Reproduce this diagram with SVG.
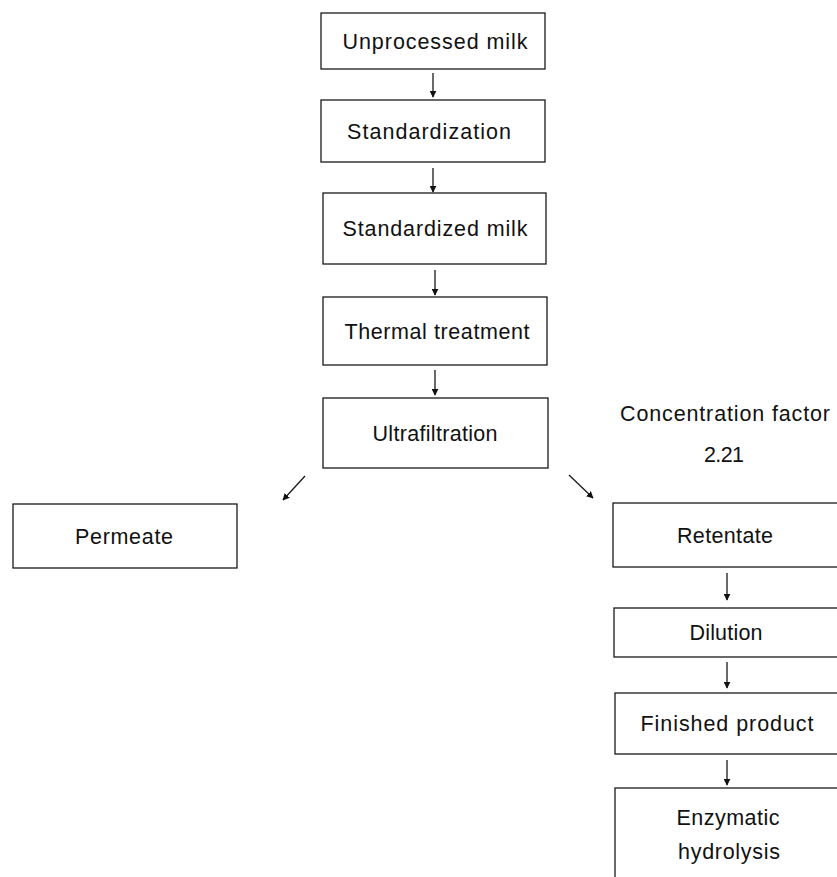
<svg xmlns="http://www.w3.org/2000/svg" width="837" height="877" viewBox="0 0 837 877">
  <style>
    .box { fill: #ffffff; stroke: #1a1a1a; stroke-width: 1.3; }
    .lbl { font-family: "Liberation Sans", Arial, sans-serif; font-size: 21.5px; fill: #111111; text-anchor: middle; }
    .wire { fill: none; stroke: #1a1a1a; stroke-width: 1.3; }
  </style>
  <defs>
    <marker id="head" viewBox="0 0 10 10" refX="9" refY="5" markerWidth="7" markerHeight="7" markerUnits="userSpaceOnUse" orient="auto">
      <path d="M0,0 L10,5 L0,10 Z" fill="#111111"/>
    </marker>
  </defs>

  <rect width="837" height="877" fill="#ffffff"/>

  <!-- main column -->
  <g id="unprocessed-milk">
    <rect class="box" x="321" y="13" width="224" height="56"/>
    <text class="lbl" x="435" y="49" textLength="185">Unprocessed  milk</text>
  </g>
  <g id="standardization">
    <rect class="box" x="321" y="100" width="224" height="62"/>
    <text class="lbl" x="429" y="139" textLength="164">Standardization</text>
  </g>
  <g id="standardized-milk">
    <rect class="box" x="323" y="193" width="223" height="71"/>
    <text class="lbl" x="435" y="236" textLength="185">Standardized  milk</text>
  </g>
  <g id="thermal-treatment">
    <rect class="box" x="323" y="297" width="224" height="68"/>
    <text class="lbl" x="437" y="339" textLength="185">Thermal  treatment</text>
  </g>
  <g id="ultrafiltration">
    <rect class="box" x="323" y="398" width="225" height="70"/>
    <text class="lbl" x="435" y="441" textLength="125">Ultrafiltration</text>
  </g>

  <!-- left branch -->
  <g id="permeate">
    <rect class="box" x="13" y="504" width="224" height="64"/>
    <text class="lbl" x="124" y="544" textLength="98">Permeate</text>
  </g>

  <!-- right branch -->
  <g id="concentration-factor">
    <text class="lbl" x="725" y="421" textLength="210">Concentration  factor</text>
    <text class="lbl" x="724" y="462" textLength="40">2.21</text>
  </g>
  <g id="retentate">
    <rect class="box" x="613" y="503" width="240" height="64"/>
    <text class="lbl" x="725" y="543" textLength="96">Retentate</text>
  </g>
  <g id="dilution">
    <rect class="box" x="614" y="608" width="240" height="49"/>
    <text class="lbl" x="726" y="640" textLength="73">Dilution</text>
  </g>
  <g id="finished-product">
    <rect class="box" x="615" y="693" width="240" height="61"/>
    <text class="lbl" x="727" y="731" textLength="173">Finished  product</text>
  </g>
  <g id="enzymatic-hydrolysis">
    <rect class="box" x="615" y="788" width="240" height="110"/>
    <text class="lbl" x="728" y="825" textLength="103">Enzymatic</text>
    <text class="lbl" x="729" y="859" textLength="102">hydrolysis</text>
  </g>

  <!-- connectors -->
  <g id="connectors">
    <line class="wire" x1="433" y1="73" x2="433" y2="97" marker-end="url(#head)"/>
    <line class="wire" x1="433" y1="168" x2="433" y2="192" marker-end="url(#head)"/>
    <line class="wire" x1="435" y1="270" x2="435" y2="295" marker-end="url(#head)"/>
    <line class="wire" x1="435" y1="370" x2="435" y2="395" marker-end="url(#head)"/>
    <line class="wire" x1="305" y1="476" x2="283" y2="500" marker-end="url(#head)"/>
    <line class="wire" x1="569" y1="475" x2="593" y2="498" marker-end="url(#head)"/>
    <line class="wire" x1="727" y1="573" x2="727" y2="600" marker-end="url(#head)"/>
    <line class="wire" x1="727" y1="662" x2="727" y2="688" marker-end="url(#head)"/>
    <line class="wire" x1="727" y1="760" x2="727" y2="785" marker-end="url(#head)"/>
  </g>
</svg>
